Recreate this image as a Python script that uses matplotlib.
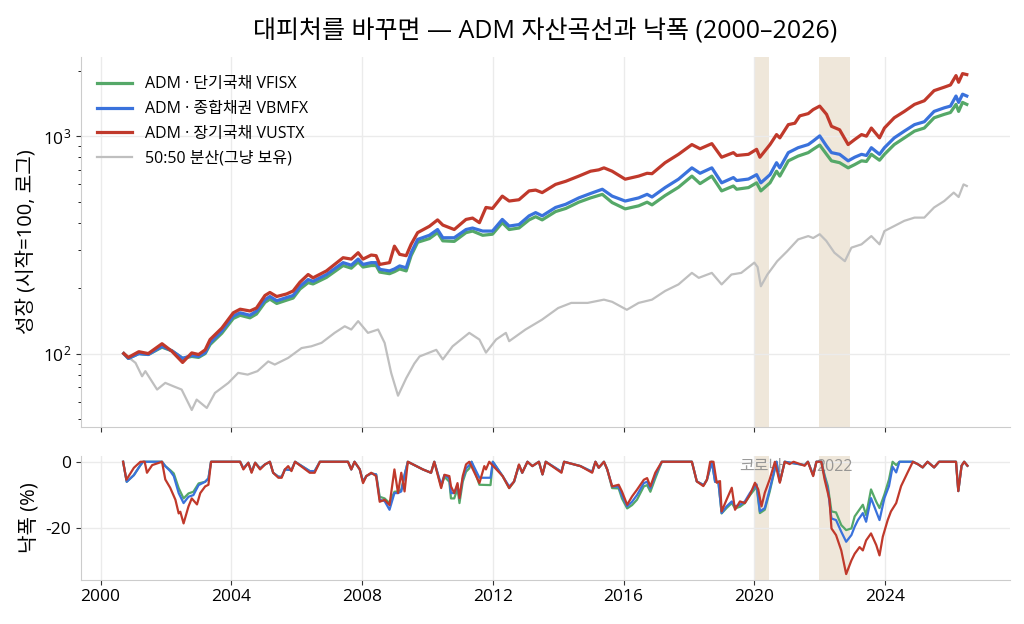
import numpy as np
import matplotlib
matplotlib.use("Agg")
import matplotlib.pyplot as plt
from matplotlib.ticker import MultipleLocator, FuncFormatter

plt.rcParams['font.family'] = ['Open Sans', 'Noto Sans CJK KR', 'DejaVu Sans']
plt.rcParams['axes.unicode_minus'] = False

# ---- growth (start = 100) ----
red_t = [2000.71, 2000.85, 2001.17, 2001.46, 2001.88, 2002.18, 2002.51, 2002.79, 2003.0, 2003.2,
         2003.35, 2003.71, 2004.06, 2004.27, 2004.57, 2004.77, 2005.03, 2005.18, 2005.39, 2005.69,
         2005.89, 2006.1, 2006.35, 2006.5, 2006.91, 2007.42, 2007.67, 2007.88, 2008.03, 2008.28,
         2008.43, 2008.54, 2008.84, 2008.99, 2009.15, 2009.35, 2009.5, 2009.7, 2010.06, 2010.31,
         2010.47, 2010.82, 2011.18, 2011.38, 2011.59, 2011.79, 2011.99, 2012.29, 2012.5, 2012.8,
         2013.11, 2013.31, 2013.51, 2013.92, 2014.23, 2014.63, 2014.99, 2015.24, 2015.4, 2015.65,
         2016.05, 2016.46, 2016.72, 2016.87, 2017.27, 2017.68, 2018.09, 2018.34, 2018.7, 2019.0,
         2019.36, 2019.46, 2019.82, 2020.07, 2020.17, 2020.48, 2020.68, 2020.78, 2021.04, 2021.24,
         2021.39, 2021.65, 2021.8, 2022.0, 2022.21, 2022.36, 2022.61, 2022.87, 2023.07, 2023.28,
         2023.43, 2023.58, 2023.83, 2023.98, 2024.28, 2024.59, 2024.9, 2025.2, 2025.5, 2025.81,
         2026.0, 2026.17, 2026.25, 2026.37, 2026.5]
red_v = [100, 96, 102, 100, 111, 102.5, 91, 100.7, 99, 104,
         116, 131, 154, 160, 157, 162, 185, 191, 183, 188,
         194, 213, 231, 223, 240, 276, 272, 291, 272, 284,
         282, 257, 262, 312, 286, 282, 318, 360, 385, 412,
         390, 372, 414, 420, 400, 470, 465, 530, 503, 510,
         560, 565, 550, 600, 620, 655, 690, 700, 715, 690,
         634, 655, 675, 672, 755, 825, 915, 875, 924, 800,
         840, 815, 825, 870, 800, 915, 1017, 982, 1130, 1147,
         1240, 1270, 1325, 1375, 1260, 1110, 1070, 915, 965, 1017,
         1000, 1090, 982, 1090, 1215, 1300, 1400, 1455, 1620, 1680,
         1720, 1900, 1770, 1940, 1920]

bg_t = [2000.71, 2000.85, 2001.17, 2001.46, 2001.88, 2002.18, 2002.51, 2002.79, 2003.0, 2003.2,
        2003.35, 2003.71, 2004.06, 2004.27, 2004.57, 2004.77, 2005.03, 2005.18, 2005.39, 2005.69,
        2005.89, 2006.1, 2006.35, 2006.5, 2006.91, 2007.42, 2007.67, 2007.88, 2008.03, 2008.28,
        2008.43, 2008.54, 2008.84, 2008.99, 2009.15, 2009.35, 2009.5, 2009.7, 2010.06, 2010.31,
        2010.47, 2010.82, 2011.18, 2011.38, 2011.69, 2011.99, 2012.29, 2012.5, 2012.8, 2013.11,
        2013.31, 2013.51, 2013.92, 2014.23, 2014.63, 2014.99, 2015.35, 2015.65, 2016.05, 2016.46,
        2016.72, 2016.87, 2017.27, 2017.68, 2018.09, 2018.34, 2018.7, 2019.0, 2019.36, 2019.46,
        2019.82, 2020.07, 2020.2, 2020.48, 2020.68, 2020.78, 2021.04, 2021.34, 2021.65, 2021.8,
        2022.0, 2022.21, 2022.36, 2022.61, 2022.87, 2023.07, 2023.28, 2023.43, 2023.58, 2023.83,
        2023.98, 2024.28, 2024.59, 2024.9, 2025.2, 2025.5, 2025.81, 2026.0, 2026.17, 2026.25,
        2026.37, 2026.5]
blue_v = [100, 95, 100, 99, 108, 103, 95, 98, 97, 101,
          112, 127, 149, 154, 150, 157, 177, 183, 175, 181,
          185, 204, 219, 215, 231, 262, 255, 272, 257, 262,
          262, 244, 240, 245, 253, 248, 291, 335, 350, 372,
          341, 341, 372, 378, 366, 366, 414, 386, 392, 430,
          445, 430, 470, 486, 520, 545, 570, 530, 503, 520,
          540, 525, 580, 634, 715, 675, 715, 610, 645, 625,
          635, 665, 610, 665, 755, 715, 840, 885, 915, 950,
          1003, 900, 840, 825, 770, 800, 825, 815, 885, 825,
          885, 982, 1055, 1130, 1165, 1300, 1350, 1375, 1530, 1430,
          1560, 1530]
green_v = [100, 95, 100, 99, 107, 103, 95, 97, 96, 100,
           110, 124, 145, 150, 146, 152, 172, 178, 170, 176,
           180, 198, 212, 209, 224, 254, 247, 264, 250, 254,
           254, 237, 233, 238, 245, 240, 282, 325, 338, 360,
           330, 328, 360, 366, 350, 354, 400, 372, 378, 412,
           426, 412, 450, 465, 497, 520, 540, 495, 463, 478,
           497, 483, 533, 582, 655, 605, 655, 560, 590, 570,
           580, 610, 560, 610, 690, 655, 770, 810, 840, 870,
           910, 825, 770, 755, 715, 740, 770, 765, 825, 775,
           825, 915, 982, 1055, 1090, 1215, 1260, 1285, 1400, 1300,
           1430, 1400]

gray_t = [2000.71, 2001.07, 2001.27, 2001.37, 2001.73, 2001.98, 2002.23, 2002.48, 2002.79, 2002.94,
          2003.25, 2003.5, 2003.91, 2004.21, 2004.5, 2004.8, 2005.13, 2005.33, 2005.74, 2006.15,
          2006.45, 2006.76, 2007.16, 2007.47, 2007.67, 2007.88, 2008.18, 2008.49, 2008.69, 2008.89,
          2009.1, 2009.35, 2009.6, 2009.76, 2010.27, 2010.47, 2010.77, 2011.28, 2011.59, 2011.79,
          2012.1, 2012.4, 2012.5, 2013.0, 2013.5, 2014.0, 2014.4, 2014.9, 2015.4, 2015.65,
          2016.1, 2016.46, 2016.87, 2017.27, 2017.68, 2018.09, 2018.3, 2018.7, 2019.0, 2019.3,
          2019.6, 2020.0, 2020.1, 2020.2, 2020.4, 2020.7, 2021.0, 2021.34, 2021.65, 2021.8,
          2022.0, 2022.2, 2022.45, 2022.77, 2022.97, 2023.28, 2023.58, 2023.83, 2023.98, 2024.28,
          2024.59, 2024.9, 2025.2, 2025.5, 2025.81, 2026.1, 2026.25, 2026.4, 2026.5]
gray_v = [100, 90.6, 78.6, 83, 68.3, 73.3, 70.7, 68.3, 55, 61.4,
          56.2, 65.9, 73.3, 81.5, 80, 83, 92, 89, 95.5, 106,
          108, 112, 124.5, 133.5, 129, 141, 124.5, 129, 112, 81.5,
          64, 77, 90, 97, 104, 94, 108, 124.5, 116, 101,
          116, 124.5, 114, 129, 143, 162, 171, 171, 177, 173,
          159, 171, 177, 194, 208, 235, 223, 235, 208, 231,
          235, 262, 250, 204, 231, 266, 295, 335, 347, 340,
          354, 330, 291, 266, 307, 318, 347, 318, 366, 386,
          408, 422, 422, 470, 503, 550, 525, 600, 590]

# ---- drawdown (%) ----
dd_red_t = [2000.69, 2000.79, 2001.02, 2001.22, 2001.35, 2001.42, 2001.58, 2001.88, 2001.98, 2002.13,
            2002.29, 2002.39, 2002.44, 2002.54, 2002.69, 2002.79, 2002.95, 2003.05, 2003.2, 2003.3,
            2003.38, 2004.27, 2004.37, 2004.52, 2004.62, 2004.73, 2004.88, 2005.03, 2005.18, 2005.28,
            2005.44, 2005.54, 2005.64, 2005.74, 2005.84, 2005.95, 2006.4, 2006.55, 2006.71, 2007.57,
            2007.67, 2007.77, 2007.93, 2008.03, 2008.13, 2008.28, 2008.43, 2008.54, 2008.69, 2008.84,
            2008.99, 2009.1, 2009.2, 2009.3, 2009.4, 2009.86, 2010.11, 2010.21, 2010.42, 2010.52,
            2010.67, 2010.72, 2010.82, 2010.92, 2010.98, 2011.08, 2011.18, 2011.28, 2011.59, 2011.74,
            2011.79, 2011.89, 2012.3, 2012.5, 2012.65, 2012.8, 2012.9, 2013.06, 2013.21, 2013.41,
            2013.52, 2013.62, 2014.1, 2014.18, 2014.68, 2015.04, 2015.14, 2015.24, 2015.4, 2015.5,
            2015.65, 2015.85, 2015.95, 2016.11, 2016.26, 2016.41, 2016.62, 2016.72, 2016.82, 2016.97,
            2017.17, 2018.09, 2018.24, 2018.44, 2018.55, 2018.65, 2018.75, 2018.85, 2018.95, 2019.0,
            2019.15, 2019.31, 2019.41, 2019.56, 2019.71, 2019.87, 2020.02, 2020.12, 2020.22, 2020.32,
            2020.47, 2020.63, 2020.78, 2020.93, 2021.08, 2021.2, 2021.54, 2021.64, 2021.8, 2021.9,
            2022.05, 2022.15, 2022.3, 2022.36, 2022.5, 2022.66, 2022.81, 2022.97, 2023.07, 2023.22,
            2023.32, 2023.42, 2023.57, 2023.73, 2023.83, 2023.93, 2024.08, 2024.18, 2024.34, 2024.49,
            2024.69, 2024.85, 2025.0, 2025.15, 2025.3, 2025.5, 2025.65, 2026.17, 2026.24, 2026.34,
            2026.42, 2026.52]
dd_red_v = [0, -5.4, -1.8, 0, 0, -3.3, -1, 0, -5.3, -7.8,
            -11.4, -15.5, -15, -18.5, -13.4, -11, -12.8, -9.4, -7.4, -6.9,
            0, 0, -2.3, -0.3, -3.3, -0.3, -2.3, -0.8, 0, -3.3,
            -4.8, -4.8, -2.3, -1.3, -2.8, 0, -3.3, -3.3, 0, 0,
            -2.3, 0, -2.3, -6.4, -4.3, -3.3, -4.3, -12, -11.4, -13,
            -2.3, -9.4, -3.3, -8.9, 0, -2.3, -3.3, 0, -7.9, -3.9,
            -4.3, -7.4, -9.4, -6.4, -10.9, -4.3, -0.8, 0, -6.4, -1.3,
            -2.3, 0, -4.3, -7.9, -5.9, -0.8, -3.3, 0, -1.3, 0,
            -3.8, 0, -3.3, 0, -1.3, -3.3, 0, -1.8, 0, -2.3,
            -7.4, -6.9, -8.9, -12.9, -10.4, -8.4, -5.4, -4.9, -7.4, -3.3,
            0, 0, -5.9, -7.3, -5.4, 0, 0, -6.3, -5.8, -14.9,
            -11.4, -7.8, -14.4, -11.9, -12.4, -9.8, -6.3, -8.3, -13.4, -9.3,
            -5.3, 0, -6.3, 0, -0.7, 0, -1.2, 0, -4.3, 0,
            0, -5.3, -11.4, -20, -22, -26.6, -33.7, -29.6, -27.6, -25.6,
            -26.6, -23.6, -21.5, -25, -28.1, -22.5, -17.5, -14.9, -12.4, -7.3,
            -3.2, 0, -0.7, -1.7, 0, -1.7, 0, 0, -8.8, -1.2,
            0, -1.2]

dd_blue_t = [2000.69, 2000.8, 2001.02, 2001.22, 2001.3, 2001.88, 2001.98, 2002.13, 2002.24, 2002.39,
             2002.54, 2002.69, 2002.84, 2003.0, 2003.2, 2003.3, 2003.38, 2004.27, 2004.37, 2004.52,
             2004.62, 2004.73, 2004.88, 2005.03, 2005.18, 2005.28, 2005.44, 2005.54, 2005.64, 2005.84,
             2005.95, 2006.4, 2006.55, 2006.71, 2007.57, 2007.67, 2007.77, 2007.93, 2008.03, 2008.13,
             2008.28, 2008.43, 2008.54, 2008.69, 2008.84, 2008.99, 2009.1, 2009.2, 2009.3, 2009.4,
             2009.86, 2010.11, 2010.21, 2010.42, 2010.52, 2010.67, 2010.72, 2010.82, 2010.92, 2010.98,
             2011.08, 2011.18, 2011.28, 2011.35, 2011.59, 2011.93, 2012.0, 2012.3, 2012.5, 2012.65,
             2012.8, 2012.9, 2013.06, 2013.21, 2013.41, 2013.52, 2013.62, 2014.1, 2014.18, 2014.68,
             2015.04, 2015.14, 2015.24, 2015.4, 2015.5, 2015.65, 2015.85, 2015.95, 2016.11, 2016.26,
             2016.41, 2016.62, 2016.72, 2016.82, 2016.97, 2017.17, 2018.09, 2018.24, 2018.45, 2018.55,
             2018.7, 2018.8, 2018.9, 2019.0, 2019.15, 2019.31, 2019.41, 2019.56, 2019.71, 2019.87,
             2020.07, 2020.17, 2020.32, 2020.47, 2020.68, 2020.78, 2020.93, 2021.54, 2021.64, 2021.8,
             2021.9, 2022.05, 2022.15, 2022.25, 2022.36, 2022.5, 2022.66, 2022.81, 2022.97, 2023.07,
             2023.17, 2023.32, 2023.42, 2023.57, 2023.73, 2023.83, 2023.98, 2024.12, 2024.23, 2024.34,
             2024.44, 2024.85, 2025.0, 2025.15, 2025.3, 2025.5, 2025.65, 2026.17, 2026.24, 2026.34,
             2026.42, 2026.52]
dd_blue_v = [0, -6, -4, -1, 0, 0, -1.3, -2.8, -4.3, -9.4,
             -12.4, -10.5, -10, -7, -6, -5, 0, 0, -2, -0.3,
             -3, -0.3, -2, -0.8, 0, -3.3, -4.5, -4.5, -2.3, -2.5,
             0, -2.8, -2.8, 0, 0, -2.3, 0, -2.3, -6, -4.3,
             -3.5, -3.8, -11.4, -11.8, -14.4, -9.4, -9.4, -8.9, -4, 0,
             -2.3, -3.3, 0, -6.9, -4, -5, -9.4, -9.4, -7, -10.9,
             -5, -2, -1, 0, -4.8, -4.8, 0, -4.3, -7.4, -6,
             -1, -3.3, 0, -1.3, 0, -3.8, 0, -3, 0, -1.3,
             -3, 0, -1.8, 0, -2.3, -7.4, -7.5, -10, -13.4, -12,
             -10, -6.4, -6, -8, -4, 0, 0, -5.9, -7, -5.4,
             0, -6, -6, -15.4, -13.4, -11.9, -13.4, -12.9, -11.9, -9.3,
             -6.8, -14.9, -13.9, -8.3, 0, -6, 0, -1, 0, -4,
             0, 0, -4.5, -8.3, -17, -17.5, -21, -24, -22, -19.5,
             -17.5, -15.4, -18, -10.9, -15, -17.5, -10.9, -7.3, -1.5, -3.2,
             0, 0, -0.7, -1.7, 0, -1.7, 0, 0, -8.8, -1.2,
             0, -1.2]
dd_green_v = [0, -6, -4, -1, 0, 0, -1.3, -2.5, -3.5, -7.9,
              -11, -9.5, -9, -6.5, -6, -5, 0, 0, -2, -0.3,
              -3, -0.3, -2, -0.8, 0, -3.3, -4.5, -4.5, -2.3, -2.5,
              0, -2.8, -2.8, 0, 0, -2.3, 0, -2.3, -6, -4.3,
              -3.5, -3.8, -10.5, -11, -12.4, -9, -8.9, -8.4, -4, 0,
              -2.3, -3.3, 0, -7.4, -4.5, -6, -11, -11, -8, -12.4,
              -6, -3, -2, 0, -6.9, -7, 0, -4.3, -7.9, -6,
              -1, -3.3, 0, -1.3, 0, -3.8, 0, -3, 0, -1.3,
              -3, 0, -1.8, 0, -2.3, -7.9, -8, -11, -14, -13,
              -11.4, -7.4, -7, -9, -5, 0, 0, -5.9, -7, -5.4,
              0, -6, -6, -15.5, -13.9, -12.4, -14, -13.5, -12.4, -10,
              -7.5, -15.4, -14.4, -9, 0, -6, 0, -1, 0, -4,
              0, 0, -4, -7.3, -14.9, -15.2, -19, -20.5, -20, -16.4,
              -15, -12.9, -16, -8.3, -12, -13.9, -9.8, -5.3, 0, -1,
              0, 0, -0.7, -1.7, 0, -1.7, 0, 0, -8.8, -1.2,
              0, -1.2]

# shaded stress windows and their labels
spans = [(2020.0, 2020.45), (2021.98, 2022.93)]
span_labels = ['코로나', '2022']

labels = ['ADM · 단기국채 VFISX', 'ADM · 종합채권 VBMFX', 'ADM · 장기국채 VUSTX', '50:50 분산(그냥 보유)']
c_green, c_blue, c_red, c_gray = '#55a868', '#3a72dc', '#c0392b', '#bfbfbf'

fig = plt.figure(figsize=(10.24, 6.24), dpi=100)
ax1 = fig.add_axes([0.079, 0.316, 0.907, 0.593])
ax2 = fig.add_axes([0.079, 0.071, 0.907, 0.198], sharex=ax1)

for ax in (ax1, ax2):
    for a, b in spans:
        ax.axvspan(a, b, color='#efe7da', lw=0, zorder=0)
    ax.grid(True, color='#ebebeb', lw=1, zorder=0)
    ax.set_axisbelow(True)
    for s in ('top', 'right'):
        ax.spines[s].set_visible(False)
    for s in ('left', 'bottom'):
        ax.spines[s].set_color('#cccccc')
    ax.tick_params(labelsize=12.5, color='#333333')

ax1.plot(bg_t, green_v, color=c_green, lw=2.3, label=labels[0], zorder=3)
ax1.plot(bg_t, blue_v, color=c_blue, lw=2.3, label=labels[1], zorder=3)
ax1.plot(red_t, red_v, color=c_red, lw=2.3, label=labels[2], zorder=3)
ax1.plot(gray_t, gray_v, color=c_gray, lw=1.6, label=labels[3], zorder=2)
ax1.set_yscale('log')
ax1.set_ylabel('성장 (시작=100, 로그)', fontsize=14.5)
ax1.tick_params(axis='x', labelbottom=False)
ax1.legend(loc='upper left', bbox_to_anchor=(0.0, 0.99), frameon=False, fontsize=11.5,
           handlelength=2.2, labelspacing=0.55, borderaxespad=0.6)

ax2.plot(dd_blue_t, dd_green_v, color=c_green, lw=1.6, zorder=3)
ax2.plot(dd_blue_t, dd_blue_v, color=c_blue, lw=1.6, zorder=3)
ax2.plot(dd_red_t, dd_red_v, color=c_red, lw=1.6, zorder=3)
ax2.yaxis.set_major_locator(MultipleLocator(20))
ax2.set_ylabel('낙폭 (%)', fontsize=14.5)
ax2.xaxis.set_major_locator(MultipleLocator(4))
ax2.xaxis.set_major_formatter(FuncFormatter(lambda v, p: f'{int(round(v))}'))

for (a, b), txt in zip(spans, span_labels):
    ax2.text((a + b) / 2, 0.98, txt, transform=ax2.get_xaxis_transform(),
             ha='center', va='top', fontsize=11.5, color='#888888', alpha=0.85, zorder=1)

ax1.set_title('대피처를 바꾸면 — ADM 자산곡선과 낙폭 (2000–2026)', fontsize=18, pad=13)

fig.savefig('out.png', dpi=100)
